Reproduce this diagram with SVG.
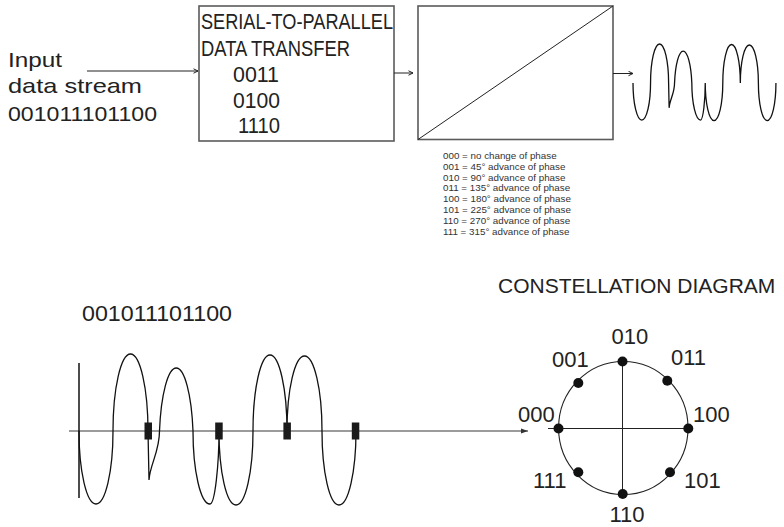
<svg xmlns="http://www.w3.org/2000/svg" width="784" height="527" viewBox="0 0 784 527">
<style>
text{font-family:"Liberation Sans",Arial,sans-serif;fill:#222}
.big{font-size:22px}
.lbl{font-size:21px}
.leg{font-size:9.8px;fill:#333}
.box{fill:none;stroke:#5a5a5a;stroke-width:1.6}
.thin{fill:none;stroke:#222;stroke-width:1}
.wave{fill:none;stroke:#111;stroke-width:1.3;vector-effect:non-scaling-stroke}
.axis{fill:none;stroke:#7a7a7a;stroke-width:1.4}
.dot{fill:#111}
.mk{fill:#1a1a1a}
</style>
<defs>
<marker id="open" markerWidth="7" markerHeight="7" refX="5.5" refY="3" orient="auto" markerUnits="userSpaceOnUse">
<path d="M1,0.8 L5.5,3 L1,5.2" fill="none" stroke="#222" stroke-width="1"/>
</marker>
<marker id="solid" markerWidth="8" markerHeight="8" refX="7" refY="3.5" orient="auto" markerUnits="userSpaceOnUse">
<path d="M0,1 L7,3.5 L0,6 Z" fill="#333"/>
</marker>
<path id="wavepath" class="wave" d="M79,431 A17,73 0 0 0 113,431 A17.5,77 0 0 1 148,431 L149,480 C150,464 159.5,452 159.5,431 A17,76 0 0 1 193,431 C193,471 200.6,504 210,504 C215,504 219,464 219,431 A17,74 0 0 0 253,431 A17,76 0 0 1 287,431 A17.5,75 0 0 1 322,431 A17,74 0 0 0 356,431"/>
</defs>

<g id="input-label">
<text class="lbl" x="8" y="67" textLength="54" lengthAdjust="spacingAndGlyphs">Input</text>
<text class="lbl" x="8" y="93" textLength="134" lengthAdjust="spacingAndGlyphs">data stream</text>
<text class="lbl" x="8" y="121" textLength="149" lengthAdjust="spacingAndGlyphs">001011101100</text>
</g>

<g id="serial-to-parallel">
<rect class="box" x="199" y="6" width="195" height="135"/>
<text class="big" x="201" y="29" textLength="192" lengthAdjust="spacingAndGlyphs">SERIAL-TO-PARALLEL</text>
<text class="big" x="201" y="56" textLength="149" lengthAdjust="spacingAndGlyphs">DATA TRANSFER</text>
<text class="big" x="233" y="82" textLength="46" lengthAdjust="spacingAndGlyphs">0011</text>
<text class="big" x="233" y="108" textLength="47" lengthAdjust="spacingAndGlyphs">0100</text>
<text class="big" x="238" y="133" textLength="42" lengthAdjust="spacingAndGlyphs">1110</text>
</g>

<g id="modulator">
<rect class="box" x="418" y="6" width="195" height="133.5"/>
<line class="thin" x1="418" y1="139.5" x2="613" y2="6"/>
</g>

<g id="output-wave">
<use href="#wavepath" transform="matrix(0.516 0 0 0.507 592.24 -135.5)"/>
</g>

<g id="legend">
<text class="leg" x="443" y="159">000 = no change of phase</text>
<text class="leg" x="443" y="169.8">001 = 45° advance of phase</text>
<text class="leg" x="443" y="180.6">010 = 90° advance of phase</text>
<text class="leg" x="443" y="191.4">011 = 135° advance of phase</text>
<text class="leg" x="443" y="202.2">100 = 180° advance of phase</text>
<text class="leg" x="443" y="213">101 = 225° advance of phase</text>
<text class="leg" x="443" y="223.8">110 = 270° advance of phase</text>
<text class="leg" x="443" y="234.6">111 = 315° advance of phase</text>
</g>

<g id="connectors">
<line class="thin" x1="87" y1="71" x2="198" y2="71" marker-end="url(#open)"/>
<line class="thin" x1="394" y1="73" x2="413" y2="73" marker-end="url(#open)"/>
<line class="thin" x1="613" y1="73.5" x2="633" y2="73.5" marker-end="url(#open)"/>
<line class="axis" x1="69" y1="431" x2="528" y2="431" marker-end="url(#solid)"/>
</g>

<g id="phase-waveform">
<text class="big" x="82" y="321" textLength="150" lengthAdjust="spacingAndGlyphs">001011101100</text>
<line x1="79" y1="363" x2="79" y2="498" stroke="#111" stroke-width="1.5"/>
<use href="#wavepath"/>
<rect class="mk" x="144.5" y="422.5" width="7.5" height="17"/>
<rect class="mk" x="215.2" y="422.5" width="7.5" height="17"/>
<rect class="mk" x="283.4" y="422.5" width="7.5" height="17"/>
<rect class="mk" x="351.8" y="422.5" width="7.5" height="17"/>
</g>

<g id="constellation">
<text x="498" y="293" style="font-size:21px">CONSTELLATION DIAGRAM</text>
<ellipse cx="623.3" cy="428" rx="64.7" ry="66.5" fill="none" stroke="#222" stroke-width="1.1"/>
<line class="thin" x1="548" y1="428.5" x2="688" y2="428.5"/>
<line class="thin" x1="622.5" y1="361" x2="622.5" y2="494"/>
<circle class="dot" cx="558.5" cy="428.5" r="5"/>
<circle class="dot" cx="578.3" cy="383" r="5"/>
<circle class="dot" cx="622.5" cy="361.5" r="5"/>
<circle class="dot" cx="667.3" cy="380.7" r="5"/>
<circle class="dot" cx="688.3" cy="428.5" r="5"/>
<circle class="dot" cx="670" cy="472.3" r="5"/>
<circle class="dot" cx="622.7" cy="494" r="5"/>
<circle class="dot" cx="578.3" cy="472.3" r="5"/>
<text class="big" x="611.5" y="344">010</text>
<text class="big" x="552" y="367">001</text>
<text class="big" x="671" y="365">011</text>
<text class="big" x="518" y="422">000</text>
<text class="big" x="693" y="422">100</text>
<text class="big" x="533" y="488">111</text>
<text class="big" x="684" y="488">101</text>
<text class="big" x="609.5" y="522">110</text>
</g>
</svg>
